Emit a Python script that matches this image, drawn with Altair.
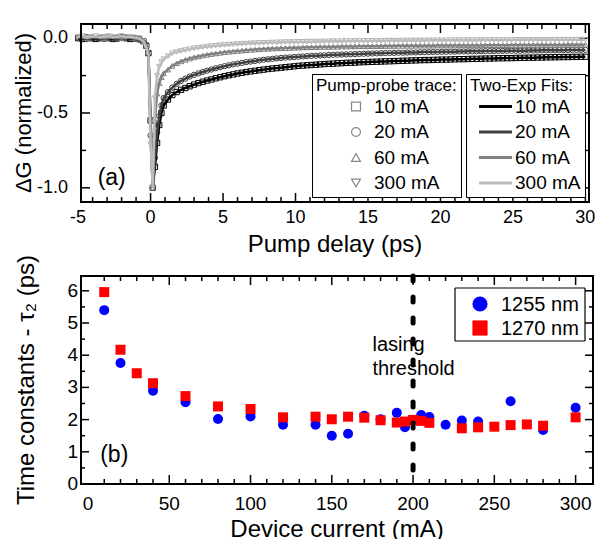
import altair as alt
import pandas as pd

FONT = "Liberation Sans"

# ---------------- panel (a): pump-probe traces ----------------
delay_ps = [
    -5.0, -4.7, -4.4, -4.1, -3.8, -3.5, -3.2, -2.9, -2.6, -2.3, -2.0, -1.7, -1.4, -1.1, -0.8,
    -0.5, -0.3, -0.15, 0.0, 0.15, 0.3, 0.45, 0.6, 0.75, 0.9,
    1.2, 1.5, 1.8, 2.1, 2.4, 2.7, 3.0, 3.3, 3.6, 3.9,
    4.2, 4.5, 4.8, 5.1, 5.4, 5.7, 6.0, 6.3, 6.6, 6.9,
    7.2, 7.5, 7.8, 8.1, 8.4, 8.7, 9.0, 9.3, 9.6, 9.9,
    10.2, 10.5, 10.8, 11.1, 11.4, 11.7, 12.0, 12.3, 12.6, 12.9,
    13.2, 13.5, 13.8, 14.1, 14.4, 14.7, 15.0, 15.3, 15.6, 15.9,
    16.2, 16.5, 16.8, 17.1, 17.4, 17.7, 18.0, 18.3, 18.6, 18.9,
    19.2, 19.5, 19.8, 20.1, 20.4, 20.7, 21.0, 21.3, 21.6, 21.9,
    22.2, 22.5, 22.8, 23.1, 23.4, 23.7, 24.0, 24.3, 24.6, 24.9,
    25.2, 25.5, 25.8, 26.1, 26.4, 26.7, 27.0, 27.3, 27.6, 27.9,
    28.2, 28.5, 28.8, 29.1, 29.4, 29.7, 30.0,
]

trace_10mA = [
    0.0, -0.005, 0.005, 0.0, -0.005, 0.0, 0.005, 0.0, -0.005, 0.0, 0.005, 0.0, -0.005, 0.0, -0.005,
    -0.02, -0.05, -0.10, -0.55, -1.0, -0.86, -0.70, -0.58, -0.50, -0.45,
    -0.41, -0.38, -0.36, -0.345, -0.333, -0.321, -0.31, -0.30, -0.291, -0.283,
    -0.276, -0.268, -0.261, -0.254, -0.248, -0.242, -0.236, -0.231, -0.226, -0.222,
    -0.218, -0.214, -0.210, -0.206, -0.203, -0.200, -0.197, -0.194, -0.191, -0.188,
    -0.185, -0.183, -0.181, -0.179, -0.177, -0.175, -0.173, -0.171, -0.170, -0.168,
    -0.167, -0.165, -0.164, -0.163, -0.161, -0.160, -0.159, -0.158, -0.157, -0.156,
    -0.155, -0.154, -0.153, -0.152, -0.151, -0.150, -0.149, -0.148, -0.147, -0.146,
    -0.146, -0.145, -0.144, -0.143, -0.143, -0.142, -0.141, -0.140, -0.140, -0.139,
    -0.138, -0.138, -0.137, -0.136, -0.136, -0.135, -0.134, -0.134, -0.133, -0.133,
    -0.132, -0.131, -0.131, -0.130, -0.130, -0.129, -0.129, -0.128, -0.128, -0.127,
    -0.127, -0.126, -0.126, -0.125, -0.125, -0.124, -0.124,
]

trace_20mA = [
    0.005, 0.0, -0.005, 0.005, 0.0, 0.0, -0.005, 0.005, 0.0, -0.005, 0.0, 0.005, 0.0, -0.005, -0.01,
    -0.02, -0.05, -0.10, -0.65, -1.0, -0.80, -0.63, -0.52, -0.45, -0.40,
    -0.36, -0.33, -0.305, -0.285, -0.27, -0.256, -0.245, -0.235, -0.226, -0.217,
    -0.209, -0.201, -0.194, -0.187, -0.181, -0.175, -0.170, -0.165, -0.160, -0.156,
    -0.152, -0.148, -0.144, -0.141, -0.138, -0.135, -0.132, -0.130, -0.128, -0.126,
    -0.124, -0.122, -0.120, -0.118, -0.117, -0.115, -0.114, -0.112, -0.111, -0.110,
    -0.109, -0.108, -0.107, -0.106, -0.105, -0.104, -0.103, -0.102, -0.101, -0.100,
    -0.099, -0.099, -0.098, -0.097, -0.097, -0.096, -0.095, -0.095, -0.094, -0.093,
    -0.093, -0.092, -0.092, -0.091, -0.091, -0.090, -0.090, -0.089, -0.089, -0.088,
    -0.088, -0.087, -0.087, -0.086, -0.086, -0.086, -0.085, -0.085, -0.084, -0.084,
    -0.084, -0.083, -0.083, -0.082, -0.082, -0.082, -0.081, -0.081, -0.081, -0.080,
    -0.080, -0.080, -0.079, -0.079, -0.079, -0.078, -0.078,
]

trace_60mA = [
    0.01, 0.005, 0.0, 0.01, 0.005, 0.01, 0.0, 0.005, 0.01, 0.005, 0.0, 0.01, 0.005, 0.0, -0.005,
    -0.02, -0.05, -0.09, -0.53, -1.0, -0.55, -0.37, -0.30, -0.26, -0.235,
    -0.21, -0.185, -0.168, -0.155, -0.145, -0.136, -0.128, -0.122, -0.116, -0.111,
    -0.106, -0.102, -0.098, -0.094, -0.091, -0.088, -0.085, -0.083, -0.080, -0.078,
    -0.076, -0.074, -0.072, -0.071, -0.069, -0.068, -0.067, -0.066, -0.065, -0.064,
    -0.063, -0.062, -0.061, -0.060, -0.060, -0.059, -0.058, -0.058, -0.057, -0.057,
    -0.056, -0.056, -0.055, -0.055, -0.054, -0.054, -0.054, -0.053, -0.053, -0.053,
    -0.052, -0.052, -0.052, -0.051, -0.051, -0.051, -0.051, -0.050, -0.050, -0.050,
    -0.050, -0.050, -0.049, -0.049, -0.049, -0.049, -0.049, -0.048, -0.048, -0.048,
    -0.048, -0.048, -0.048, -0.047, -0.047, -0.047, -0.047, -0.047, -0.047, -0.046,
    -0.046, -0.046, -0.046, -0.046, -0.046, -0.045, -0.045, -0.045, -0.045, -0.045,
    -0.045, -0.045, -0.044, -0.044, -0.044, -0.044, -0.044,
]

trace_300mA = [
    0.01, 0.015, 0.005, 0.01, 0.015, 0.005, 0.01, 0.015, 0.005, 0.01, 0.015, 0.005, 0.01, 0.005, 0.0,
    -0.02, -0.06, -0.11, -0.71, -1.0, -0.40, -0.25, -0.19, -0.16, -0.14,
    -0.12, -0.10, -0.092, -0.085, -0.079, -0.073, -0.068, -0.064, -0.060, -0.056,
    -0.053, -0.050, -0.047, -0.045, -0.043, -0.041, -0.039, -0.037, -0.036, -0.034,
    -0.033, -0.032, -0.031, -0.030, -0.029, -0.028, -0.027, -0.026, -0.026, -0.025,
    -0.024, -0.024, -0.023, -0.023, -0.022, -0.022, -0.021, -0.021, -0.020, -0.020,
    -0.020, -0.019, -0.019, -0.019, -0.018, -0.018, -0.018, -0.017, -0.017, -0.017,
    -0.017, -0.016, -0.016, -0.016, -0.016, -0.015, -0.015, -0.015, -0.015, -0.015,
    -0.014, -0.014, -0.014, -0.014, -0.014, -0.013, -0.013, -0.013, -0.013, -0.013,
    -0.013, -0.013, -0.012, -0.012, -0.012, -0.012, -0.012, -0.012, -0.012, -0.012,
    -0.011, -0.011, -0.011, -0.011, -0.011, -0.011, -0.011, -0.011, -0.011, -0.010,
    -0.010, -0.010, -0.010, -0.010, -0.010, -0.010, -0.010,
]

trace_labels = ["10 mA", "20 mA", "60 mA", "300 mA"]
marker_grays = ["#000000", "#3c3c3c", "#7c7c7c", "#b4b4b4"]
marker_shapes = ["square", "circle", "triangle-up", "triangle-down"]
fit_grays = ["#000000", "#404040", "#808080", "#bcbcbc"]

a_x_labels = [-5, 0, 5, 10, 15, 20, 25, 30]
a_x_label_text = ["-5", "0", "5", "10", "15", "20", "25", "30"]
a_y_labels = [0.0, -0.5, -1.0]
a_y_label_text = ["0.0", "-0.5", "-1.0"]
a_x_major = [0, 5, 10, 15, 20, 25, 30]
a_x_minor = [-4, -3, -2, -1, 1, 2, 3, 4, 6, 7, 8, 9, 11, 12, 13, 14, 16, 17, 18, 19,
             21, 22, 23, 24, 26, 27, 28, 29]
a_y_major = [0.0, -0.5, -1.0]
a_y_minor = [-0.25, -0.75]

# ---------------- panel (b): time constants ----------------
current_1255 = [10, 20, 40, 60, 80, 100, 120, 140, 150, 160, 170, 180, 190, 195, 205, 210,
                220, 230, 240, 260, 280, 300]
tau_1255 = [5.40, 3.76, 2.90, 2.54, 2.02, 2.10, 1.84, 1.84, 1.50, 1.56, 2.12, 2.01, 2.21, 1.76,
            2.14, 2.08, 1.84, 1.97, 1.94, 2.57, 1.68, 2.37]
current_1270 = [10, 20, 30, 40, 60, 80, 100, 120, 140, 150, 160, 170, 180, 190, 195, 200, 205,
                210, 230, 240, 250, 260, 270, 280, 300]
tau_1270 = [5.96, 4.17, 3.44, 3.13, 2.73, 2.41, 2.33, 2.07, 2.09, 2.01, 2.09, 2.06, 1.98, 1.91,
            1.94, 1.99, 1.96, 1.90, 1.73, 1.76, 1.78, 1.83, 1.85, 1.81, 2.07]
series_labels = ["1255 nm", "1270 nm"]
series_colors = ["#0000ff", "#ff0000"]
series_shapes = ["circle", "square"]
threshold_current = [200]

b_x_labels = [0, 50, 100, 150, 200, 250, 300]
b_x_label_text = ["0", "50", "100", "150", "200", "250", "300"]
b_y_labels = [0, 1, 2, 3, 4, 5, 6]
b_y_label_text = ["0", "1", "2", "3", "4", "5", "6"]
b_x_major = [50, 100, 150, 200, 250, 300]
b_x_minor = [10, 20, 30, 40, 60, 70, 80, 90, 110, 120, 130, 140, 160, 170, 180, 190,
             210, 220, 230, 240, 260, 270, 280, 290]
b_y_major = [1, 2, 3, 4, 5, 6]
b_y_minor = [0.5, 1.5, 2.5, 3.5, 4.5, 5.5]

# ---------------- build tables ----------------
traces = [trace_10mA, trace_20mA, trace_60mA, trace_300mA]
for tr in traces:
    assert len(tr) == len(delay_ps), (len(tr), len(delay_ps))
rows = []
for lab, arr in zip(trace_labels, traces):
    for t, v in zip(delay_ps, arr):
        rows.append({"t": t, "dG": v, "trace": lab, "fit": lab})
df_a = pd.DataFrame(rows)

df_1255 = pd.DataFrame({"current": current_1255, "tau": tau_1255})
df_1270 = pd.DataFrame({"current": current_1270, "tau": tau_1270})

W_A, H_A = 508, 178
W_B, H_B = 512, 208
XA = (-4.8, 30.25)
YA = (-1.095, 0.095)
XB = (-4.3, 310.7)
YB = (0.0, 6.46)
xa = alt.Scale(domain=list(XA), nice=False, zero=False)
ya = alt.Scale(domain=list(YA), nice=False, zero=False)
xb = alt.Scale(domain=list(XB), nice=False, zero=False)
yb = alt.Scale(domain=list(YB), nice=False, zero=False)

pad_label = "length(datum.label) < 6 ? '\u2007' + datum.label : datum.label"


def edge_ticks(values, field, scale, orient, length, W, H):
    df = pd.DataFrame({field: values})
    base = alt.Chart(df).mark_rule(color="black", strokeWidth=1.5)
    if orient == "x":
        enc = alt.X(f"{field}:Q", scale=scale, axis=None)
        return [
            base.encode(x=enc, y=alt.value(H), y2=alt.value(H - length)),
            base.encode(x=enc, y=alt.value(0), y2=alt.value(length)),
        ]
    enc = alt.Y(f"{field}:Q", scale=scale, axis=None)
    return [
        base.encode(y=enc, x=alt.value(0), x2=alt.value(length)),
        base.encode(y=enc, x=alt.value(W), x2=alt.value(W - length)),
    ]


def x_labels(vals, texts, field, scale, H, pad, size):
    return alt.Chart(pd.DataFrame({field: vals, "txt": texts})).mark_text(
        align="center", baseline="top", fontSize=size, font=FONT, color="black", dy=pad
    ).encode(x=alt.X(f"{field}:Q", scale=scale, axis=None), y=alt.value(H), text="txt:N")


def y_labels(vals, texts, field, scale, pad, size):
    return alt.Chart(pd.DataFrame({field: vals, "txt": texts})).mark_text(
        align="right", baseline="middle", fontSize=size, font=FONT, color="black", dx=-pad
    ).encode(x=alt.value(0), y=alt.Y(f"{field}:Q", scale=scale, axis=None), text="txt:N")


def title_text(txt, x, y, size, angle=0, baseline="top"):
    return alt.Chart(pd.DataFrame({"txt": [txt]})).mark_text(
        align="center", baseline=baseline, fontSize=size, font=FONT, color="black", angle=angle
    ).encode(x=alt.value(x), y=alt.value(y), text="txt:N")


def segments_layer(segs, xf, yf, xs, ys, width):
    rows = []
    for i, (x0, y0, x1, y1) in enumerate(segs):
        rows.append({xf: x0, yf: y0, "sid": i, "k": 0})
        rows.append({xf: x1, yf: y1, "sid": i, "k": 1})
    return alt.Chart(pd.DataFrame(rows)).mark_line(color="black", strokeWidth=width).encode(
        x=alt.X(f"{xf}:Q", scale=xs, axis=None),
        y=alt.Y(f"{yf}:Q", scale=ys, axis=None),
        detail="sid:N",
        order="k:Q",
    )


def frame_segments(X, Y):
    return [(X[0], Y[0], X[1], Y[0]), (X[1], Y[0], X[1], Y[1]),
            (X[1], Y[1], X[0], Y[1]), (X[0], Y[1], X[0], Y[0])]


# ---- panel (a) layers ----
leg_pts = alt.Legend(
    title="Pump-probe trace:", orient="none", legendX=231, legendY=50, direction="vertical",
    fillColor="white", strokeColor="black", padding=4, titleFontSize=17, titlePadding=2,
    labelFontSize=19, symbolSize=80, symbolStrokeWidth=1.2, symbolOffset=30.5,
    labelOffset=8.5, rowPadding=5.5, labelExpr=pad_label,
)
leg_fit = alt.Legend(
    title="Two-Exp Fits:", orient="none", legendX=385, legendY=50, direction="vertical",
    fillColor="white", strokeColor="black", padding=4, titleFontSize=17, titlePadding=2,
    labelFontSize=19, symbolType="stroke", symbolSize=1089, symbolStrokeWidth=3,
    symbolOffset=7.5, labelOffset=1.5, rowPadding=5.5, labelExpr=pad_label, clipHeight=19,
)

pts_a = alt.Chart(df_a).mark_point(filled=False, size=28, strokeWidth=1, opacity=1).encode(
    x=alt.X("t:Q", scale=xa, axis=None),
    y=alt.Y("dG:Q", scale=ya, axis=None),
    color=alt.Color("trace:N", sort=trace_labels, scale=alt.Scale(range=marker_grays), legend=leg_pts),
    shape=alt.Shape("trace:N", sort=trace_labels, scale=alt.Scale(range=marker_shapes), legend=leg_pts),
)

lines_a = alt.Chart(df_a).mark_line(strokeWidth=2.5).encode(
    x=alt.X("t:Q", scale=xa, axis=None),
    y=alt.Y("dG:Q", scale=ya, axis=None),
    stroke=alt.Stroke("fit:N", sort=trace_labels, scale=alt.Scale(range=fit_grays), legend=leg_fit),
)

label_a = alt.Chart(pd.DataFrame({"t": [-3.65], "dG": [-0.935], "txt": ["(a)"]})).mark_text(
    align="left", baseline="middle", fontSize=23, font=FONT, color="black"
).encode(x=alt.X("t:Q", scale=xa, axis=None), y=alt.Y("dG:Q", scale=ya, axis=None), text="txt:N")

layers_a = (
    edge_ticks(a_x_major, "t", xa, "x", 9, W_A, H_A)
    + edge_ticks(a_x_minor, "t", xa, "x", 5, W_A, H_A)
    + edge_ticks(a_y_major, "dG", ya, "y", 9, W_A, H_A)
    + edge_ticks(a_y_minor, "dG", ya, "y", 5, W_A, H_A)
    + [
        pts_a, lines_a,
        segments_layer(frame_segments(XA, YA), "t", "dG", xa, ya, 2),
        label_a,
        x_labels(a_x_labels, a_x_label_text, "t", xa, H_A, 7, 18),
        y_labels(a_y_labels, a_y_label_text, "dG", ya, 13, 18),
        title_text("Pump delay (ps)", W_A / 2, H_A + 31, 24),
        title_text("\u0394G (normalized)", -45, H_A / 2, 22, angle=270, baseline="bottom"),
    ]
)
top = alt.layer(*layers_a).properties(width=W_A, height=H_A)

# ---- panel (b) layers ----
pts_1255 = alt.Chart(df_1255).mark_point(
    shape=series_shapes[0], filled=True, size=100, opacity=1, strokeWidth=0, color=series_colors[0]
).encode(x=alt.X("current:Q", scale=xb, axis=None), y=alt.Y("tau:Q", scale=yb, axis=None))
pts_1270 = alt.Chart(df_1270).mark_point(
    shape=series_shapes[1], filled=True, size=100, opacity=1, strokeWidth=0, color=series_colors[1]
).encode(x=alt.X("current:Q", scale=xb, axis=None), y=alt.Y("tau:Q", scale=yb, axis=None))

thr = alt.Chart(pd.DataFrame({"current": threshold_current})).mark_rule(
    color="black", strokeWidth=5, strokeDash=[5, 16], strokeCap="round"
).encode(x=alt.X("current:Q", scale=xb, axis=None), y=alt.value(0), y2=alt.value(H_B))

thr_text = alt.Chart(pd.DataFrame({
    "current": [175, 175], "tau": [4.12, 3.38], "txt": ["lasing", "threshold"]
})).mark_text(align="left", baseline="alphabetic", fontSize=20, font=FONT, color="black").encode(
    x=alt.X("current:Q", scale=xb, axis=None), y=alt.Y("tau:Q", scale=yb, axis=None), text="txt:N")

label_b = alt.Chart(pd.DataFrame({"current": [7.5], "tau": [0.9], "txt": ["(b)"]})).mark_text(
    align="left", baseline="middle", fontSize=23, font=FONT, color="black"
).encode(x=alt.X("current:Q", scale=xb, axis=None), y=alt.Y("tau:Q", scale=yb, axis=None), text="txt:N")

# legend of panel (b): box edges, symbols and labels placed in panel pixels
ubx = (XB[1] - XB[0]) / W_B
uby = (YB[1] - YB[0]) / H_B
bx0, bx1 = XB[0] + 374 * ubx, XB[0] + 504 * ubx
by0, by1 = YB[1] - 12 * uby, YB[1] - 65 * uby
leg_box = segments_layer(
    [(bx0, by0, bx1, by0), (bx1, by0, bx1, by1), (bx1, by1, bx0, by1), (bx0, by1, bx0, by0)],
    "current", "tau", xb, yb, 1.2)
leg_sym = [
    alt.Chart(pd.DataFrame({"k": [0]})).mark_point(
        shape=series_shapes[i], filled=True, size=230, opacity=1, strokeWidth=0, color=series_colors[i]
    ).encode(x=alt.value(399), y=alt.value(28 + 24 * i))
    for i in range(2)
]
leg_txt = [
    alt.Chart(pd.DataFrame({"txt": [series_labels[i]]})).mark_text(
        align="left", baseline="middle", fontSize=20, font=FONT, color="black"
    ).encode(x=alt.value(420), y=alt.value(29 + 24 * i), text="txt:N")
    for i in range(2)
]

layers_b = (
    edge_ticks(b_x_major, "current", xb, "x", 9, W_B, H_B)
    + edge_ticks(b_x_minor, "current", xb, "x", 5, W_B, H_B)
    + edge_ticks(b_y_major, "tau", yb, "y", 8, W_B, H_B)
    + edge_ticks(b_y_minor, "tau", yb, "y", 4, W_B, H_B)
    + [
        pts_1255, pts_1270,
        segments_layer(frame_segments(XB, YB), "current", "tau", xb, yb, 2),
        thr, leg_box, thr_text, label_b,
        x_labels(b_x_labels, b_x_label_text, "current", xb, H_B, 11, 19),
        y_labels(b_y_labels, b_y_label_text, "tau", yb, 3, 19),
        title_text("Device current (mA)", W_B / 2, H_B + 34, 24),
        title_text("Time constants - \u03c4\u2082 (ps)", -41.6, H_B / 2, 24, angle=270,
                   baseline="bottom"),
    ]
    + leg_sym + leg_txt
)
bottom = alt.layer(*layers_b).properties(width=W_B, height=H_B)

chart = alt.vconcat(top, bottom, spacing=74, bounds="flush").properties(
    padding={"left": 4, "top": 11, "right": 0, "bottom": 0}
).configure_view(
    stroke="black", strokeWidth=2
).configure_legend(
    labelFont=FONT, titleFont=FONT, labelColor="black", titleColor="black",
    titleFontWeight="normal",
)

chart.save("out.html", embed_options={"renderer": "svg", "actions": False})
